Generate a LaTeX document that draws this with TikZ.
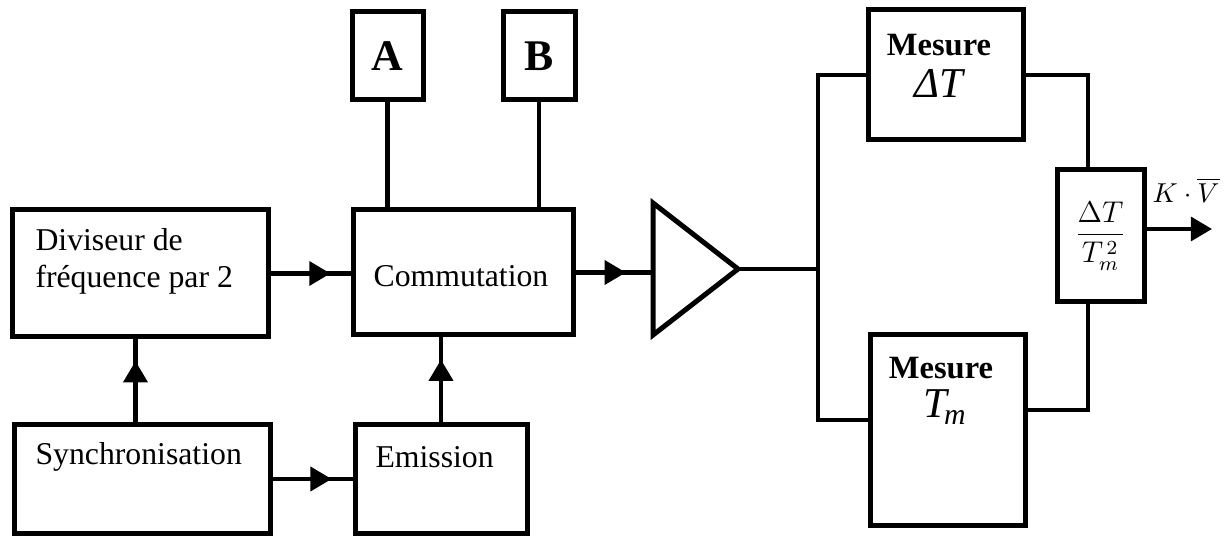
\documentclass[tikz,border=0pt]{standalone}
\usepackage{amsmath}
\usepackage{fontspec}
\setmainfont{Liberation Serif}
\usetikzlibrary{arrows.meta,positioning,calc,decorations.markings}

\tikzset{
  blk/.style={draw,line width=2pt,inner sep=0pt},
  txt/.style={inner sep=0pt,font=\fontsize{12.7}{14.8}\selectfont},
  wire/.style={line width=1.8pt},
  midarrow/.style={postaction={decorate},decoration={markings,
    mark=at position #1 with {\arrow{Triangle[length=8.5pt,width=9.5pt]}}}}
}

\begin{document}
\begin{tikzpicture}[x=0.4pt,y=-0.4pt,line join=miter]
  \useasboundingbox (0,0) rectangle (1224,537);
  % blocs de gauche
  \node[blk,minimum width=102pt,minimum height=50.8pt] (div) at (140.5,273.5) {};
  \node[blk,minimum width=88pt,minimum height=50pt] (com) at (463,272.5) {};
  \node[blk,minimum width=102pt,minimum height=43.2pt] (syn) at (142.5,479) {};
  \node[blk,minimum width=68.8pt,minimum height=43.2pt] (emi) at (441,479) {};
  \node[blk,minimum width=28.4pt,minimum height=35.2pt,font=\fontsize{17.5}{20}\selectfont\bfseries] (a) at (387.5,56) {A};
  \node[blk,minimum width=28.8pt,minimum height=35.2pt,font=\fontsize{17.5}{20}\selectfont\bfseries] (b) at (539,56) {B};
  \node[txt,anchor=west,align=left] (div-t) at (35,261) {Diviseur de\\fréquence par 2};
  \node[txt] (com-t) at (461,276) {Commutation};
  \node[txt,anchor=west] (syn-t) at (35,457) {Synchronisation};
  \node[txt,anchor=west] (emi-t) at (375,457) {Emission};
  % amplificateur
  \coordinate (amp-in) at (653,272);
  \coordinate (amp-out) at (738,269);
  \draw[line width=2pt] (653,203) -- (amp-out) -- (653,335) -- cycle;
  % blocs de mesure
  \node[blk,minimum width=62pt,minimum height=52pt] (mdt) at (945.5,75) {};
  \node[blk,minimum width=62pt,minimum height=76pt] (mtm) at (947.5,430) {};
  \node[blk,minimum width=34.8pt,minimum height=52.8pt] (frac) at (1100.5,236)
    {\fontsize{11.5}{13}\selectfont$\dfrac{\Delta T}{T_m^{\,2}}$};
  \node[txt,font=\fontsize{13}{15}\selectfont\bfseries] (mdt-t) at (939,45) {Mesure};
  \node[txt,font=\fontsize{17}{20}\selectfont\itshape] (mdt-v) at (939,83) {ΔT};
  \node[txt,font=\fontsize{13}{15}\selectfont\bfseries] (mtm-t) at (941,368) {Mesure};
  \node[txt,font=\fontsize{17}{20}\selectfont\itshape] (mtm-v) at (945,407) {T\kern-1pt\textsubscript{m}};
  \node[inner sep=0pt,font=\fontsize{11}{13}\selectfont] (kv) at (1186,190) {$K\cdot\overline{V}$};
  % liaisons
  \coordinate (bus-bot) at (818,420);
  \coordinate (out) at (1212,229);
  \draw[wire,midarrow=0.75] (div.east) -- (div.east -| com.west);
  \draw[wire,midarrow=0.74] (syn.east) -- (syn.east -| emi.west);
  \draw[wire,midarrow=0.74] ([xshift=-2.8pt]syn.north) -- ([xshift=-2.8pt]syn.north |- div.south);
  \draw[wire,midarrow=0.74] (emi.north) -- (emi.north |- com.south);
  \draw[wire] (a.south) -- (a.south |- com.north);
  \draw[wire] (b.south) -- (b.south |- com.north);
  \draw[wire,midarrow=0.65] (com.east) -- (com.east -| amp-in);
  \draw[wire] (amp-out) -- (amp-out -| bus-bot);
  \draw[wire] (mdt.west) -| (bus-bot) -- (bus-bot -| mtm.west);
  \draw[wire] (mdt.east) -| ([xshift=-5pt]frac.north);
  \draw[wire] ([xshift=-5pt]frac.south) |- ([yshift=8pt]mtm.east);
  \draw[wire,-{Triangle[length=8.5pt,width=9.5pt]}] (frac.east |- out) -- (out);
\end{tikzpicture}
\end{document}
